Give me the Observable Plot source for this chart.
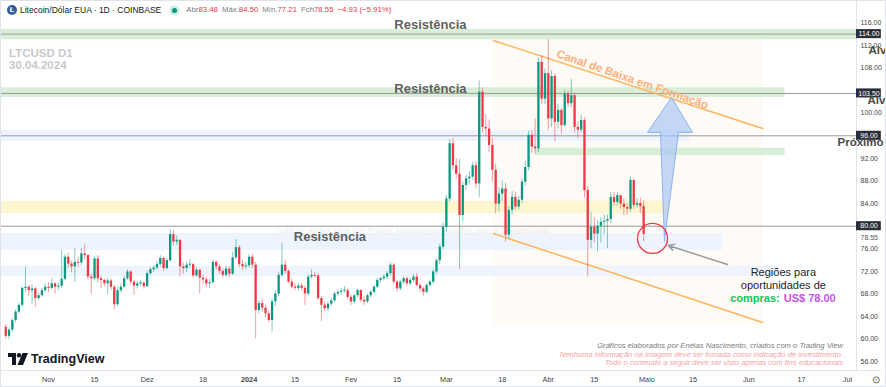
<!DOCTYPE html>
<html lang="pt-BR">
<head>
<meta charset="utf-8">
<script src="https://cdn.jsdelivr.net/npm/d3@7"></script>
<script src="https://cdn.jsdelivr.net/npm/@observablehq/plot@0.6"></script>
<style>
  html,body{margin:0;padding:0;background:#fff;}
  #wrap{position:relative;width:886px;height:387px;overflow:hidden;font-family:"Liberation Sans",Arial,sans-serif;background:#fff;}
  #wrap > svg{position:absolute;left:0;top:0;}
  .ov{position:absolute;white-space:nowrap;line-height:1;}
  #hdr{left:7px;top:5px;height:10px;font-size:8.5px;color:#131722;display:flex;align-items:center;}
  .coin{display:inline-block;width:10px;height:10px;border-radius:50%;background:#345d9d;color:#fff;font-size:7px;font-weight:bold;text-align:center;line-height:10px;margin-right:3px;}
  .dot{display:inline-block;width:5px;height:5px;border-radius:50%;background:#089981;box-shadow:0 0 0 2.5px #cdeee6;margin:0 9px 0 11px;}
  .lbl{color:#787b86;font-size:7.8px;}
  .val{color:#f23645;font-size:7.8px;margin-right:4px;}
  #sym{left:9px;top:47px;font-size:11.5px;font-weight:bold;color:#c9c9c9;line-height:12px;}
  #credit{right:43px;top:342px;text-align:right;font-style:italic;font-size:7.6px;line-height:8.7px;}
  #tv{left:8px;top:352px;height:14px;display:flex;align-items:center;font-weight:bold;font-size:12.5px;color:#131722;}
  #tv svg{margin-right:3px;flex:none;}
  #gear{left:872px;top:375px;font-size:10px;color:#555;}
  #border{left:0;top:0;width:884px;height:385px;border:1px solid #e0e3eb;pointer-events:none;}
</style>
</head>
<body>
<div id="wrap"></div>
<script>
// ---------- DATA: daily candles [open, high, low, close], LTC/USD Coinbase ----------
const firstDay = "2023-10-19";
const oct2023 = [
  [62.1,62.6,60.0,60.5],[60.5,62.0,59.9,61.6],[61.6,63.6,61.2,63.3],[63.3,65.2,62.9,64.8],
  [64.8,66.3,64.5,66.0],[66.0,69.2,65.6,69.0],[69.0,72.8,68.3,69.2],[69.2,69.5,67.5,68.6],
  [68.6,69.6,66.2,68.9],[68.9,69.2,65.7,67.2],[67.2,68.2,66.8,67.7],[67.7,69.0,67.4,68.6],
  [68.6,69.8,68.2,69.2]
];
const nov2023 = [
  [69.2,70.0,68.3,69.0],[69.0,70.7,68.8,69.8],[69.8,70.0,68.0,69.2],[69.2,69.9,68.6,69.4],
  [69.4,75.7,69.0,70.6],[70.6,75.0,70.4,74.5],[74.5,75.2,72.5,73.3],[73.3,73.8,71.8,72.8],
  [72.8,76.0,70.1,73.6],[73.6,74.5,72.6,73.5],[73.5,76.1,73.0,75.1],[75.1,76.7,74.0,74.8],
  [74.8,75.0,70.5,71.0],[71.0,71.5,68.0,70.7],[70.7,74.6,70.3,74.2],[74.2,74.8,70.0,70.7],
  [70.7,71.2,69.0,70.4],[70.4,70.6,69.2,69.8],[69.8,70.8,68.0,70.3],[70.3,70.6,68.6,69.2],
  [69.2,69.5,65.2,66.1],[66.1,69.2,65.8,68.6],[68.6,69.8,68.2,69.2],[69.2,71.2,69.0,70.7],
  [70.7,72.3,70.4,71.9],[71.9,72.1,69.6,70.1],[70.1,70.4,67.8,69.4],[69.4,70.3,68.9,69.8],
  [69.8,70.4,69.4,69.9],[69.9,70.2,68.9,69.3]
];
const dec2023 = [
  [69.3,72.0,69.2,71.6],[71.6,72.7,71.3,72.3],[72.3,73.0,71.9,72.6],[72.6,73.7,72.2,73.2],
  [73.2,74.8,72.8,74.3],[74.3,74.6,72.0,72.5],[72.5,74.3,72.3,73.9],[73.9,79.4,73.6,78.5],
  [78.5,79.2,76.5,77.2],[77.2,78.3,76.6,77.5],[77.5,77.6,71.0,72.8],[72.8,73.5,71.5,72.5],
  [72.5,73.6,71.8,73.1],[73.1,74.0,72.6,73.2],[73.2,73.4,70.8,71.2],[71.2,72.7,71.0,72.2],
  [72.2,72.4,68.0,70.8],[70.8,71.2,69.6,70.5],[70.5,70.9,69.2,69.8],[69.8,70.6,68.9,70.0],
  [70.0,74.0,69.8,73.6],[73.6,73.9,72.2,72.8],[72.8,73.2,71.5,72.0],[72.0,72.4,70.8,71.3],
  [71.3,72.9,71.0,72.4],[72.4,72.8,70.9,71.5],[71.5,75.4,71.3,74.4],[74.4,77.6,74.0,76.2],
  [76.2,76.6,72.6,73.2],[73.2,73.9,72.2,72.8],[72.8,73.6,72.3,73.0]
];
const jan2024 = [
  [73.0,75.0,72.6,74.5],[74.5,75.0,72.5,73.1],[73.1,73.6,60.1,65.1],[65.1,66.8,64.5,66.3],
  [66.3,67.0,64.8,65.5],[65.5,66.0,63.8,64.5],[64.5,65.0,63.0,63.3],[63.3,67.2,61.3,66.6],
  [66.6,68.6,65.8,68.0],[68.0,71.8,67.5,71.3],[71.3,76.9,70.9,73.1],[73.1,74.0,71.5,72.0],
  [72.0,72.3,69.8,70.1],[70.1,70.6,68.9,69.2],[69.2,69.8,68.6,69.0],[69.0,69.9,68.5,69.4],
  [69.4,69.8,68.6,69.0],[69.0,69.4,66.0,68.0],[68.0,71.4,67.6,71.0],[71.0,72.3,70.6,71.3],
  [71.3,71.8,70.8,71.2],[71.2,71.6,66.8,67.2],[67.2,67.6,63.1,66.0],[66.0,66.6,64.9,65.4],
  [65.4,66.6,64.8,66.2],[66.2,67.3,65.8,66.8],[66.8,68.4,66.5,68.0],[68.0,68.7,67.6,68.3],
  [68.3,69.0,67.9,68.5],[68.5,69.3,68.1,68.6],[68.6,68.9,67.0,67.4]
];
const feb2024 = [
  [67.4,67.8,66.0,66.6],[66.6,68.0,66.3,67.7],[67.7,68.9,67.4,68.6],[68.6,68.8,66.5,66.9],
  [66.9,67.5,66.0,66.6],[66.6,68.0,66.3,67.7],[67.7,68.6,67.3,68.3],[68.3,69.5,68.0,69.2],
  [69.2,70.8,68.9,70.4],[70.4,71.0,70.0,70.7],[70.7,71.4,70.3,71.0],[71.0,72.0,70.5,71.6],
  [71.6,73.5,71.2,73.1],[73.1,73.4,69.6,70.1],[70.1,70.5,68.4,68.9],[68.9,70.5,68.6,70.1],
  [70.1,71.1,69.7,70.7],[70.7,71.0,69.4,69.8],[69.8,70.8,69.5,70.4],[70.4,71.5,70.0,71.0],
  [71.0,71.6,69.2,69.5],[69.5,69.9,68.4,68.9],[68.9,69.2,67.6,68.3],[68.3,69.8,68.0,69.5],
  [69.5,70.5,69.2,70.1],[70.1,72.3,69.8,71.9],[71.9,74.2,71.5,73.9],[73.9,76.8,73.2,76.3],
  [76.3,80.5,75.8,79.8]
];
const mar2024 = [
  [79.8,85.5,79.0,84.8],[84.8,95.3,84.2,94.6],[94.6,95.5,89.8,90.7],[90.7,92.0,88.3,89.2],
  [89.2,91.8,72.3,81.9],[81.9,87.8,80.8,87.2],[87.2,89.0,86.4,88.4],[88.4,89.6,87.3,88.7],
  [88.7,91.3,88.1,90.7],[90.7,91.4,86.6,87.5],[87.5,105.7,85.1,103.7],[103.7,104.5,96.5,97.5],
  [97.5,99.8,95.8,97.2],[97.2,98.8,93.0,94.3],[94.3,95.5,87.8,89.9],[89.9,91.0,82.2,83.9],
  [83.9,86.8,82.5,85.7],[85.7,88.0,84.3,86.6],[86.6,87.6,77.2,78.4],[78.4,83.5,77.6,82.8],
  [82.8,86.2,82.0,85.1],[85.1,86.0,82.8,83.4],[83.4,85.3,82.9,84.6],[84.6,88.4,84.0,87.8],
  [87.8,91.5,87.2,90.4],[90.4,96.8,89.8,96.1],[96.1,97.0,92.9,94.0],[94.0,99.0,92.8,93.7],
  [93.7,109.8,93.0,109.0],[109.0,110.2,101.5,102.5],[102.5,107.8,101.5,107.0]
];
const apr2024 = [
  [107.0,113.0,97.0,99.0],[99.0,107.5,97.5,106.5],[106.5,107.0,95.0,98.4],[98.4,101.5,97.2,100.5],
  [100.5,100.8,96.3,97.8],[97.8,104.0,97.5,103.4],[103.4,103.8,101.0,101.7],[101.7,106.0,101.0,103.1],
  [103.1,103.5,96.5,97.5],[97.5,98.5,95.5,97.0],[97.0,99.6,96.5,98.7],[98.7,99.2,85.0,86.3],
  [86.3,87.0,71.0,77.5],[77.5,82.5,76.0,79.8],[79.8,81.5,77.0,78.6],[78.6,81.0,75.4,80.0],
  [80.0,81.5,77.0,80.7],[80.7,82.0,78.5,80.9],[80.9,82.0,76.0,81.2],[81.2,86.0,80.5,85.1],
  [85.1,86.0,83.5,84.2],[84.2,86.0,83.5,85.4],[85.4,85.5,83.0,83.9],[83.9,84.8,81.9,83.3],
  [83.3,84.0,82.0,83.0],[83.0,88.7,82.5,88.1],[88.1,88.3,83.0,83.7],[83.7,84.8,83.2,84.0],
  [84.0,85.0,82.3,83.48],[83.48,84.50,77.21,78.55]
];

// horizontal levels (price) drawn as lines with axis tags
const levels = [114, 103.5, 96, 80];
const lastPrice = 78.55;
// zones: price ranges, and the date where each ends (null = chart edge)
const greenZones = [
  {lo: 113.0, hi: 114.8, start: null, end: null},
  {lo: 102.8, hi: 104.5, start: null, end: "2024-06-12"},
  {lo: 92.5, hi: 93.8, start: "2024-03-28", end: "2024-06-12"}
];
const blueZones = [
  {lo: 95.0, hi: 96.9, start: null, end: "2024-05-14"},
  {lo: 75.7, hi: 78.7, start: null, end: "2024-05-24"},
  {lo: 71.1, hi: 72.9, start: null, end: "2024-06-10"}
];
const yellowZones = [{lo: 82.25, hi: 84.4, start: null, end: "2024-05-08"}];
// descending channel
const channelUpper = [{date: "2024-03-15T07:00Z", price: 112.87}, {date: "2024-06-05T05:00Z", price: 97.3}];
const channelLower = [{date: "2024-03-15T07:00Z", price: 78.71}, {date: "2024-06-05T05:00Z", price: 62.96}];
const channelBox = [{start: "2024-03-15T07:00Z", end: "2024-06-05T05:00Z", lo: 62.5, hi: 113.3}];
// projected move arrow outline
const targetArrow = [
  {date: "2024-05-06T08:00Z", price: 77.4},
  {date: "2024-05-05T03:00Z", price: 96.6},
  {date: "2024-05-01T04:00Z", price: 96.6},
  {date: "2024-05-08T12:00Z", price: 102.8},
  {date: "2024-05-14T21:00Z", price: 96.6},
  {date: "2024-05-10T15:00Z", price: 96.6},
  {date: "2024-05-06T08:00Z", price: 77.4}
];
const buyCircle = [{date: "2024-05-02T17:00Z", price: 77.83}];
const pointer = [{fromDate: "2024-05-25T12:00Z", fromPrice: 73.22, toDate: "2024-05-07T13:00Z", toPrice: 76.59}];
// text annotations
const resistLabels = [
  {date: "2024-02-25T04:00Z", price: 115.7, text: "Resistência"},
  {date: "2024-02-25T04:00Z", price: 104.37, text: "Resistência"},
  {date: "2024-01-25T14:00Z", price: 78.18, text: "Resistência"}
];
const channelLabel = [{date: "2024-04-26T14:00Z", price: 105.97, text: "Canal de Baixa em Formação"}];
const regionLines = [
  {date: "2024-06-11T12:00Z", price: 71.8, text: "Regiões para"},
  {date: "2024-06-11T12:00Z", price: 69.5, text: "oportunidades de"}
];
const buyLabel = [{date: "2024-06-11T00:00Z", price: 67.2, label: "compras:", value: "US$ 78.00"}];
const watermark = [{date: "2024-02-19T10:00Z", price: 79.1, text: "Gráficos elaborados por Enéias Nascimento, criados com o Trading View"}];
const targetNotes = [
  {price: 111.1, text: "Alvo"},
  {price: 102.25, text: "Alvo"},
  {price: 94.8, text: "Próximo Alvo"}
];
// axes
const yTicks = [116, 112, 108, 100, 92, 88, 84, 76, 72, 68, 64, 60, 56];
const xTickDates = ["2023-11-01","2023-11-15","2023-12-01","2023-12-18","2024-01-01","2024-01-15","2024-02-01","2024-02-15","2024-03-01","2024-03-18","2024-04-01","2024-04-15","2024-05-01","2024-05-15","2024-06-01","2024-06-17","2024-07-01"];
const xTickLabels = ["Nov","15","Dez","18","2024","15","Fev","15","Mar","18","Abr","15","Maio","15","Jun","17","Jul"];

// ---------- build ----------
const T = s => new Date(s);
const up = "#089981", down = "#f23645";
const xDomain = [T("2023-10-17T09:38Z"), T("2024-07-03T17:46Z")];
const yDomain = [54.46, 119.95];
const tagEnd = T("2024-07-11T07:00Z");

const candles = [oct2023, nov2023, dec2023, jan2024, feb2024, mar2024, apr2024].flat()
  .map((v, i) => ({date: d3.utcDay.offset(T(firstDay + "T00:00Z"), i), open: v[0], high: v[1], low: v[2], close: v[3]}));
const col = d => d.close >= d.open ? up : down;
const bodyEnd = d => Math.abs(d.close - d.open) < 0.18 ? d.open + (d.close >= d.open ? 0.18 : -0.18) : d.close;

const tickMap = new Map(xTickDates.map((d, i) => [+T(d + "T00:00Z"), xTickLabels[i]]));
const zx1 = d => d.start ? T(d.start) : xDomain[0];
const zx2 = d => d.end ? T(d.end) : xDomain[1];
const noteStyle = {y: "price", frameAnchor: "right", text: "text", textAnchor: "start", fill: "#4a4a4a", fontWeight: "bold", fontSize: 11.5};

const chart = Plot.plot({
  width: 886, height: 387,
  marginLeft: 0, marginRight: 30, marginTop: 0, marginBottom: 17,
  x: {type: "utc", domain: xDomain, axis: null},
  y: {domain: yDomain, axis: null},
  color: {type: "identity"},
  style: {background: "transparent", fontFamily: "'Liberation Sans', Arial, sans-serif", fontSize: "7px", color: "#333", overflow: "visible"},
  marks: [
    Plot.rect(channelBox, {x1: d => T(d.start), x2: d => T(d.end), y1: "lo", y2: "hi", fill: "#fefaf6"}),
    Plot.rect(blueZones, {x1: zx1, x2: zx2, y1: "lo", y2: "hi", fill: "#edf4fd"}),
    Plot.rect(yellowZones, {x1: zx1, x2: zx2, y1: "lo", y2: "hi", fill: "#fdf6cf"}),
    Plot.rect(greenZones, {x1: zx1, x2: zx2, y1: "lo", y2: "hi", fill: "#d9eed7"}),
    Plot.text(watermark, {x: d => T(d.date), y: "price", text: "text", fill: "#ededed", fontStyle: "italic", fontSize: 8.5}),
    Plot.ruleY(levels, {y: d => d, x1: () => xDomain[0], x2: () => xDomain[1], stroke: "#9a9a9a", strokeWidth: 1}),
    Plot.line(channelUpper, {x: d => T(d.date), y: "price", stroke: "#ffb45e", strokeWidth: 1.5}),
    Plot.line(channelLower, {x: d => T(d.date), y: "price", stroke: "#ffb45e", strokeWidth: 1.5}),
    Plot.ruleX(candles, {x: "date", y1: "low", y2: "high", stroke: col, strokeOpacity: 0.5, strokeWidth: 1}),
    Plot.ruleX(candles, {x: "date", y1: "open", y2: bodyEnd, stroke: col, strokeWidth: 2.3}),
    Plot.text(resistLabels, {x: d => T(d.date), y: "price", text: "text", fill: "#5f5f5f", fontWeight: "bold", fontSize: 13}),
    Plot.text(channelLabel, {x: d => T(d.date), y: "price", text: "text", fill: "#fbb07c", fontWeight: "bold", fontSize: 11.5, rotate: 19}),
    Plot.line(targetArrow, {x: d => T(d.date), y: "price", fill: "#a9c8f5", fillOpacity: 0.7, stroke: "#8db4ee", strokeWidth: 1, strokeLinejoin: "round"}),
    Plot.dot(buyCircle, {x: d => T(d.date), y: "price", r: 15, stroke: "#f23645", strokeWidth: 1.3, fill: "none"}),
    Plot.arrow(pointer, {x1: d => T(d.fromDate), y1: "fromPrice", x2: d => T(d.toDate), y2: "toPrice", stroke: "#9a9a9a", strokeWidth: 1.4, headLength: 7}),
    Plot.text(regionLines, {x: d => T(d.date), y: "price", text: "text", fill: "#1e1e1e", fontSize: 11}),
    Plot.text(buyLabel, {x: d => T(d.date), y: "price", text: "label", fill: "#14c25a", fontWeight: "bold", fontSize: 11, textAnchor: "end", dx: -2}),
    Plot.text(buyLabel, {x: d => T(d.date), y: "price", text: "value", fill: "#c752e6", fontWeight: "bold", fontSize: 11, textAnchor: "start", dx: 2}),
    // frame separators
    Plot.ruleX([xDomain[1]], {x: d => d, stroke: "#e0e3eb"}),
    Plot.ruleY([yDomain[0]], {y: d => d, x1: () => xDomain[0], x2: () => tagEnd, stroke: "#e0e3eb"}),
    // axes
    Plot.axisY(yTicks, {anchor: "right", tickSize: 0, tickPadding: 4, tickFormat: d => d.toFixed(2), fontSize: 7, color: "#444"}),
    Plot.axisX(xTickDates.map(d => T(d + "T00:00Z")), {anchor: "bottom", tickSize: 0, tickPadding: 6, tickFormat: d => tickMap.get(+d), fontSize: 7.3, color: "#444"}),
    Plot.text([lastPrice], {y: d => d, frameAnchor: "right", dx: 4, dy: 3, text: d => d.toFixed(2), textAnchor: "start", fill: "#555", fontSize: 7}),
    Plot.rect(levels, {x1: () => xDomain[1], x2: () => tagEnd, y1: d => d - 0.8, y2: d => d + 0.8, fill: "#2a2e39"}),
    Plot.text(levels, {y: d => d, frameAnchor: "right", dx: 12.5, text: d => d.toFixed(2), fill: "white", fontSize: 7, textAnchor: "middle"}),
    Plot.text(targetNotes.slice(0, 1), {...noteStyle, dx: 12}),
    Plot.text(targetNotes.slice(1, 2), {...noteStyle, dx: 11}),
    Plot.text(targetNotes.slice(2, 3), {...noteStyle, dx: -19})
  ]
});
document.getElementById("wrap").appendChild(chart);
chart.querySelectorAll("text").forEach(t => { if (t.textContent === "2024") t.setAttribute("font-weight", "bold"); });

// overlays (header, symbol, credits, logo)
const wrap = document.getElementById("wrap");
wrap.insertAdjacentHTML("beforeend", `
<div class="ov" id="hdr"><span class="coin">Ł</span>Litecoin/Dólar EUA · 1D · COINBASE<span class="dot"></span>
<span class="lbl">Abr</span><span class="val">83.48</span><span class="lbl">Máx.</span><span class="val">84.50</span><span class="lbl">Mín.</span><span class="val">77.21</span><span class="lbl">Fch</span><span class="val">78.55</span><span class="val">−4.93 (−5.91%)</span></div>
<div class="ov" id="sym">LTCUSD D1<br>30.04.2024</div>
<div class="ov" id="credit"><span style="color:#7b7b7b">Gráficos elaborados por Enéias Nascimento, criados com o Trading View</span><br><span style="color:#f6a3a3">Nenhuma informação na imagem deve ser tomada como indicação de investimento.</span><br><span style="color:#f6a3a3">Todo o conteúdo a seguir deve ser visto apenas com fins educacionais</span></div>
<div class="ov" id="tv"><svg width="20" height="12" viewBox="0 0 20 12"><path d="M0 0h8v12H4V4H0z" fill="#131722"/><circle cx="11" cy="2.2" r="2.2" fill="#131722"/><path d="M14.5 0h5.5l-5 12h-5.5z" fill="#131722"/></svg>TradingView</div>
<div class="ov" id="gear">⊙</div>
<div class="ov" id="border"></div>`);
</script>
</body>
</html>
